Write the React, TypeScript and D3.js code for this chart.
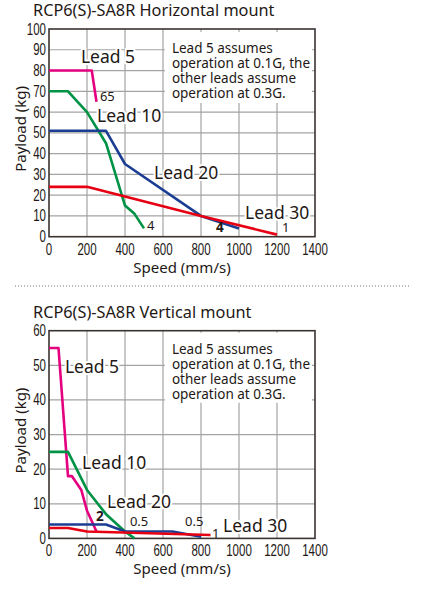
import React from 'react';
import * as d3 from 'd3';

// speed axis (mm/s)
const speedTicks = [0, 200, 400, 600, 800, 1000, 1200, 1400];
const horizPayloadTicks = [0, 10, 20, 30, 40, 50, 60, 70, 80, 90, 100];
const vertPayloadTicks = [0, 10, 20, 30, 40, 50, 60];

const leadNames = ['Lead 5', 'Lead 10', 'Lead 20', 'Lead 30'];
const leadColors = ['#e4007f', '#009245', '#1b3d92', '#e60012'];

// horizontal mount: [speed, payload]
const horizLead5 = [[0, 80], [225, 80], [250, 65]];
const horizLead10 = [[0, 70], [100, 70], [200, 60], [300, 45], [400, 15], [450, 11], [500, 4]];
const horizLead20 = [[0, 51], [300, 51], [400, 35], [800, 10], [1000, 4]];
const horizLead30 = [[0, 24], [200, 24], [800, 10], [1200, 1]];

// vertical mount
const vertLead5 = [[0, 55], [50, 55], [100, 18], [120, 18], [170, 14], [200, 8], [250, 2]];
const vertLead10 = [[0, 25], [100, 25], [200, 14], [300, 7], [400, 2], [450, 0]];
const vertLead20 = [[0, 4], [300, 4], [400, 2], [650, 2], [800, 0.5]];
const vertLead30 = [[0, 3], [100, 3], [200, 2], [850, 1]];

// labels: [text, speed, payload, size, bold]
const horizLabels = [
  ['Lead 5', 168, 83.6, 17.5, false],
  ['Lead 10', 253, 55.2, 17.5, false],
  ['Lead 20', 553, 27.8, 17.5, false],
  ['Lead 30', 1032, 8.5, 17.5, false],
  ['65', 268, 65.3, 13, false],
  ['4', 516, 3.2, 13, false],
  ['4', 879, 2.3, 13.5, true],
  ['1', 1226, 2.3, 13, false],
];
const vertLabels = [
  ['Lead 5', 84, 47.8, 17.5, false],
  ['Lead 10', 174, 20, 17.5, false],
  ['Lead 20', 305, 8.8, 17.5, false],
  ['Lead 30', 916, 1.8, 17.5, false],
  ['2', 247, 5, 13.5, true],
  ['0.5', 426, 3.6, 13, false],
  ['0.5', 716, 3.6, 13, false],
  ['1', 858, 0, 13, false],
];

const noteLines = ['Lead 5 assumes', 'operation at 0.1G, the', 'other leads assume', 'operation at 0.3G.'];

const W = 422, H = 595;
const plotLeft = 49, plotRight = 315, plotH = 207.7;
const gridColor = '#a3a3a3';
const frameColor = '#3a3330';
const tickFont = '"Liberation Sans", Arial, sans-serif';
const textFont = '"Noto Sans", "Open Sans", sans-serif';

function Chart({ top, title, yMax, yTicks, series, labels, box, noteY }) {
  const x = d3.scaleLinear().domain([0, 1400]).range([plotLeft, plotRight]);
  const y = d3.scaleLinear().domain([0, yMax]).range([top + plotH, top]);
  const line = d3.line().x(d => x(d[0])).y(d => y(d[1]));
  const bottom = top + plotH;

  return (
    <g>
      <text x={33} y={top - 13} fontFamily={textFont} fontSize={16.3} fill="#231815">{title}</text>
      {/* grid */}
      {speedTicks.slice(1, -1).map(t => (
        <line key={'v' + t} x1={x(t)} x2={x(t)} y1={top} y2={bottom} stroke={gridColor} strokeWidth={1.2} />
      ))}
      {yTicks.slice(1, -1).map(t => (
        <line key={'h' + t} x1={plotLeft} x2={plotRight} y1={y(t)} y2={y(t)} stroke={gridColor} strokeWidth={1.2} />
      ))}
      {/* note box hides grid */}
      <rect x={x(box[0])} y={y(box[1])} width={x(box[2]) - x(box[0])} height={y(box[3]) - y(box[1])} fill="#fff" />
      {noteLines.map((l, i) => (
        <text key={l} x={x(box[0]) + 7} y={y(noteY) + i * 15} fontFamily={textFont} fontSize={13.5} fill="#231815">{l}</text>
      ))}
      {/* frame */}
      <rect x={plotLeft} y={top} width={plotRight - plotLeft} height={plotH} fill="none" stroke={frameColor} strokeWidth={1.6} />
      {/* series */}
      {series.map((s, i) => (
        <path key={leadNames[i]} d={line(s)} fill="none" stroke={leadColors[i]} strokeWidth={2.6} strokeLinejoin="round" />
      ))}
      {/* labels */}
      {labels.map((l, i) => (
        <text key={i} x={x(l[1])} y={y(l[2])} fontFamily={textFont} fontSize={l[3]} fontWeight={l[4] ? 'bold' : 'normal'}
          fill="#231815" stroke="#fff" strokeWidth={l[3] > 14 ? 4 : 0} paintOrder="stroke">{l[0]}</text>
      ))}
      {/* y ticks */}
      {yTicks.map(t => (
        <text key={'yl' + t} transform={`translate(${plotLeft - 3},${y(t) + 5.5}) scale(0.72,1)`} textAnchor="end"
          fontFamily={tickFont} fontSize={16} fill="#231815">{t}</text>
      ))}
      {/* x ticks */}
      {speedTicks.map(t => (
        <text key={'xl' + t} transform={`translate(${x(t)},${bottom + 18}) scale(0.72,1)`} textAnchor="middle"
          fontFamily={tickFont} fontSize={16} fill="#231815">{t}</text>
      ))}
      <text x={(plotLeft + plotRight) / 2} y={bottom + 36} textAnchor="middle" fontFamily={textFont} fontSize={15} fill="#231815">Speed (mm/s)</text>
      <text transform={`translate(${26},${top + plotH / 2 - 4}) rotate(-90)`} textAnchor="middle" fontFamily={textFont} fontSize={15} fill="#231815">Payload (kg)</text>
    </g>
  );
}

export default function App() {
  return (
    <svg width={W} height={H} style={{ position: 'absolute', left: 0, top: 0, background: '#fff' }}>
      <rect width={W} height={H} fill="#fff" />
      <Chart top={29} title="RCP6(S)-SA8R Horizontal mount" yMax={100} yTicks={horizPayloadTicks}
        series={[horizLead5, horizLead10, horizLead20, horizLead30]} labels={horizLabels}
        box={[610, 98.6, 1384, 64.4]} noteY={88.4} />
      <line x1={15} x2={410} y1={286} y2={286} stroke="#777" strokeWidth={1} strokeDasharray="1,2" />
      <Chart top={330.7} title="RCP6(S)-SA8R Vertical mount" yMax={60} yTicks={vertPayloadTicks}
        series={[vertLead5, vertLead10, vertLead20, vertLead30]} labels={vertLabels}
        box={[610, 59.4, 1384, 39.2]} noteY={53.3} />
    </svg>
  );
}
